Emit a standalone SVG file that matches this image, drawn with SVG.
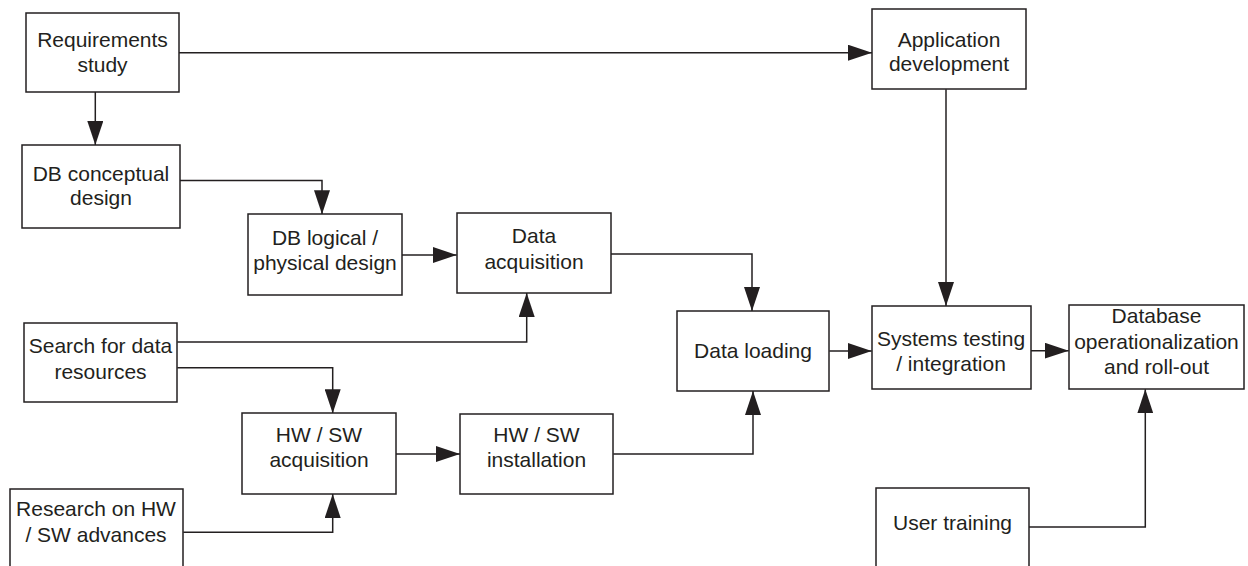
<svg xmlns="http://www.w3.org/2000/svg" width="1248" height="566" viewBox="0 0 1248 566">
<defs>
<style>
.box{fill:#ffffff;stroke:#231f20;stroke-width:1.5}
.t{font-family:"Liberation Sans",Arial,Helvetica,sans-serif;font-size:21px;fill:#231f20;text-anchor:middle}
.c{fill:none;stroke:#231f20;stroke-width:1.5}
</style>
<marker id="ah" markerUnits="userSpaceOnUse" markerWidth="24" markerHeight="16" refX="24" refY="8" orient="auto">
<path d="M0,0 L24,8 L0,16 z" fill="#231f20"/>
</marker>
</defs>
<rect width="1248" height="566" fill="#ffffff"/>
<g id="connectors">
<path class="c" d="M179,52.7 H872" marker-end="url(#ah)"/>
<path class="c" d="M95.3,92 V145" marker-end="url(#ah)"/>
<path class="c" d="M180,180.5 H322 V214.3" marker-end="url(#ah)"/>
<path class="c" d="M401.7,255 H456.7" marker-end="url(#ah)"/>
<path class="c" d="M610.7,254 H752 V311" marker-end="url(#ah)"/>
<path class="c" d="M177.3,342 H526.7 V293" marker-end="url(#ah)"/>
<path class="c" d="M177.3,367.7 H332.7 V413.3" marker-end="url(#ah)"/>
<path class="c" d="M183.3,532.3 H332.7 V494" marker-end="url(#ah)"/>
<path class="c" d="M396,454 H460" marker-end="url(#ah)"/>
<path class="c" d="M613.3,454 H753 V391" marker-end="url(#ah)"/>
<path class="c" d="M829.3,351 H871.7" marker-end="url(#ah)"/>
<path class="c" d="M946,89.3 V306" marker-end="url(#ah)"/>
<path class="c" d="M1030.7,350.7 H1068.7" marker-end="url(#ah)"/>
<path class="c" d="M1029,527 H1145.3 V389.3" marker-end="url(#ah)"/>
</g>
<g id="req"><rect class="box" x="26" y="13" width="153" height="79"/><text class="t" x="102.5" y="47">Requirements</text><text class="t" x="102.5" y="72">study</text></g>
<g id="appdev"><rect class="box" x="872" y="9" width="154" height="80"/><text class="t" x="949" y="47">Application</text><text class="t" x="949" y="71">development</text></g>
<g id="dbconc"><rect class="box" x="22" y="145" width="158" height="83"/><text class="t" x="101" y="181">DB conceptual</text><text class="t" x="101" y="205">design</text></g>
<g id="dblog"><rect class="box" x="248" y="214" width="154" height="81"/><text class="t" x="325" y="245">DB logical /</text><text class="t" x="325" y="270">physical design</text></g>
<g id="dataacq"><rect class="box" x="457" y="213" width="154" height="80"/><text class="t" x="534" y="243">Data</text><text class="t" x="534" y="269">acquisition</text></g>
<g id="search"><rect class="box" x="24" y="323" width="153" height="79"/><text class="t" x="100.5" y="353">Search for data</text><text class="t" x="100.5" y="379">resources</text></g>
<g id="hwacq"><rect class="box" x="242" y="413" width="154" height="81"/><text class="t" x="319" y="442">HW / SW</text><text class="t" x="319" y="466.5">acquisition</text></g>
<g id="hwinst"><rect class="box" x="460" y="414" width="153" height="80"/><text class="t" x="536.5" y="442">HW / SW</text><text class="t" x="536.5" y="466.5">installation</text></g>
<g id="research"><path class="box" d="M10,580 V489 H183 V580"/><text class="t" x="96" y="516">Research on HW</text><text class="t" x="96" y="541.5">/ SW advances</text></g>
<g id="loading"><rect class="box" x="677" y="311" width="152" height="80"/><text class="t" x="753" y="358">Data loading</text></g>
<g id="systems"><rect class="box" x="872" y="306" width="159" height="83"/><text class="t" x="951" y="346">Systems testing</text><text class="t" x="951" y="371">/ integration</text></g>
<g id="database"><rect class="box" x="1069" y="305" width="175" height="84"/><text class="t" x="1156.5" y="323">Database</text><text class="t" x="1156.5" y="348.5">operationalization</text><text class="t" x="1156.5" y="374">and roll-out</text></g>
<g id="training"><path class="box" d="M876,580 V488 H1029 V580"/><text class="t" x="952.5" y="530">User training</text></g>
</svg>
